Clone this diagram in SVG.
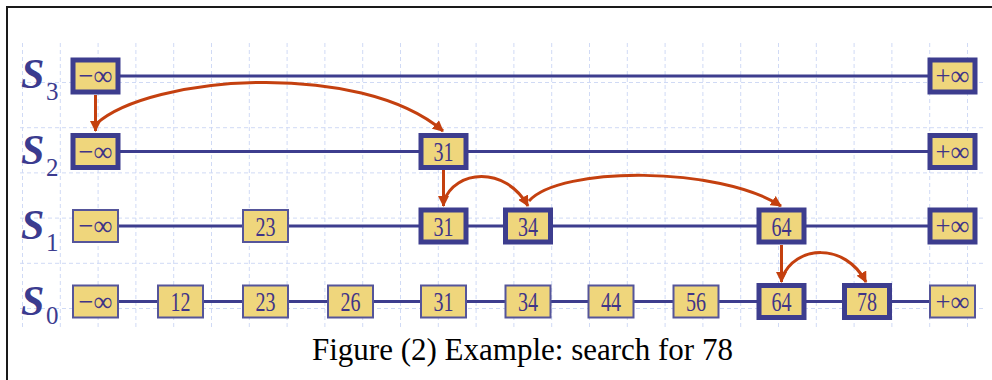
<svg xmlns="http://www.w3.org/2000/svg" width="992" height="380" viewBox="0 0 992 380">
<style>
.grid line{stroke:#d0daf5;stroke-width:1;stroke-dasharray:4 3}
.lvl{stroke:#3d3d8e;stroke-width:3;fill:none}
.arr{stroke:#c4400f;stroke-width:3;fill:none;marker-end:url(#ah)}
.thick rect{fill:#efd67c;stroke:#3d3d8e;stroke-width:5}
.thin rect{fill:#efd67c;stroke:#55559a;stroke-width:2}
.num{font-family:"Liberation Serif",serif;font-size:27px;fill:#3f3488;text-anchor:middle}
.inf{font-family:"Liberation Serif",serif;font-size:28px;fill:#3f3488;text-anchor:middle}
.lab{font-family:"Liberation Serif",serif;font-style:italic;font-weight:bold;font-size:42px;fill:#3b3b8f}
.sub{font-family:"Liberation Serif",serif;font-size:25px;fill:#3b3b8f}
.cap{font-family:"Liberation Serif",serif;font-size:31px;fill:#000}
</style>
<defs>
<marker id="ah" markerUnits="userSpaceOnUse" markerWidth="12" markerHeight="11" refX="10" refY="5.5" orient="auto">
<path d="M0,0 L11,5.5 L0,11 z" fill="#c4400f"/>
</marker>
</defs>
<rect x="0" y="0" width="992" height="380" fill="#fff"/>
<path d="M7,380 V7 H992" fill="none" stroke="#1a1a1a" stroke-width="2"/>
<g class="grid" id="grid">
<line x1="22.5" y1="43" x2="22.5" y2="330"/><line x1="60.3" y1="43" x2="60.3" y2="330"/><line x1="98.1" y1="43" x2="98.1" y2="330"/><line x1="135.9" y1="43" x2="135.9" y2="330"/><line x1="173.7" y1="43" x2="173.7" y2="330"/><line x1="211.5" y1="43" x2="211.5" y2="330"/><line x1="249.3" y1="43" x2="249.3" y2="330"/><line x1="287.1" y1="43" x2="287.1" y2="330"/><line x1="324.9" y1="43" x2="324.9" y2="330"/><line x1="362.7" y1="43" x2="362.7" y2="330"/><line x1="400.5" y1="43" x2="400.5" y2="330"/><line x1="438.3" y1="43" x2="438.3" y2="330"/><line x1="476.1" y1="43" x2="476.1" y2="330"/><line x1="513.9" y1="43" x2="513.9" y2="330"/><line x1="551.7" y1="43" x2="551.7" y2="330"/><line x1="589.5" y1="43" x2="589.5" y2="330"/><line x1="627.3" y1="43" x2="627.3" y2="330"/><line x1="665.1" y1="43" x2="665.1" y2="330"/><line x1="702.9" y1="43" x2="702.9" y2="330"/><line x1="740.7" y1="43" x2="740.7" y2="330"/><line x1="778.5" y1="43" x2="778.5" y2="330"/><line x1="816.3" y1="43" x2="816.3" y2="330"/><line x1="854.1" y1="43" x2="854.1" y2="330"/><line x1="891.9" y1="43" x2="891.9" y2="330"/><line x1="929.7" y1="43" x2="929.7" y2="330"/><line x1="967.5" y1="43" x2="967.5" y2="330"/>
<line x1="20" y1="82.5" x2="985" y2="82.5"/><line x1="20" y1="127.7" x2="985" y2="127.7"/><line x1="20" y1="172.9" x2="985" y2="172.9"/><line x1="20" y1="218.1" x2="985" y2="218.1"/><line x1="20" y1="263.3" x2="985" y2="263.3"/><line x1="20" y1="308.5" x2="985" y2="308.5"/>
</g>
<g id="labels">
<text class="lab" x="21" y="88">S</text><text class="sub" x="46" y="100">3</text>
<text class="lab" x="21" y="164">S</text><text class="sub" x="46" y="176">2</text>
<text class="lab" x="21" y="239">S</text><text class="sub" x="46" y="251">1</text>
<text class="lab" x="21" y="315">S</text><text class="sub" x="46" y="324">0</text>
</g>
<g id="connectors">
<line class="lvl" x1="96" y1="76" x2="952" y2="76"/>
<line class="lvl" x1="96" y1="151.5" x2="952" y2="151.5"/>
<line class="lvl" x1="96" y1="226" x2="952" y2="226"/>
<line class="lvl" x1="96" y1="301.5" x2="952" y2="301.5"/>
<path class="arr" d="M95.5,95 V131"/>
<path class="arr" d="M96,124 C150,75 360,60 443,131"/>
<path class="arr" d="M443.5,170 V206"/>
<path class="arr" d="M444,201 C455,170 505,165 528,206"/>
<path class="arr" d="M529,201 C560,166 720,166 781,206"/>
<path class="arr" d="M781.5,245 V282"/>
<path class="arr" d="M782,278 C795,245 845,242 866,282"/>
</g>
<g id="s3-ninf" class="thick"><rect x="73" y="60" width="45" height="32"/><text class="inf" x="95.5" y="85" textLength="34" lengthAdjust="spacingAndGlyphs">−∞</text></g>
<g id="s3-pinf" class="thick"><rect x="930" y="60" width="45" height="32"/><text class="inf" x="952.5" y="85" textLength="34" lengthAdjust="spacingAndGlyphs">+∞</text></g>
<g id="s2-ninf" class="thick"><rect x="73" y="135.5" width="45" height="32"/><text class="inf" x="95.5" y="160.5" textLength="34" lengthAdjust="spacingAndGlyphs">−∞</text></g>
<g id="s2-31" class="thick"><rect x="421" y="135.5" width="45" height="32"/><text class="num" x="443.5" y="161" textLength="20" lengthAdjust="spacingAndGlyphs">31</text></g>
<g id="s2-pinf" class="thick"><rect x="930" y="135.5" width="45" height="32"/><text class="inf" x="952.5" y="160.5" textLength="34" lengthAdjust="spacingAndGlyphs">+∞</text></g>
<g id="s1-ninf" class="thin"><rect x="73" y="210" width="45" height="32"/><text class="inf" x="95.5" y="235" textLength="34" lengthAdjust="spacingAndGlyphs">−∞</text></g>
<g id="s1-23" class="thin"><rect x="243" y="210" width="45" height="32"/><text class="num" x="265.5" y="235.5" textLength="20" lengthAdjust="spacingAndGlyphs">23</text></g>
<g id="s1-31" class="thick"><rect x="421" y="210" width="45" height="32"/><text class="num" x="443.5" y="235.5" textLength="20" lengthAdjust="spacingAndGlyphs">31</text></g>
<g id="s1-34" class="thick"><rect x="505.5" y="210" width="45" height="32"/><text class="num" x="528" y="235.5" textLength="20" lengthAdjust="spacingAndGlyphs">34</text></g>
<g id="s1-64" class="thick"><rect x="759" y="210" width="45" height="32"/><text class="num" x="781.5" y="235.5" textLength="20" lengthAdjust="spacingAndGlyphs">64</text></g>
<g id="s1-pinf" class="thick"><rect x="930" y="210" width="45" height="32"/><text class="inf" x="952.5" y="235" textLength="34" lengthAdjust="spacingAndGlyphs">+∞</text></g>
<g id="s0-ninf" class="thin"><rect x="73" y="285.5" width="45" height="32"/><text class="inf" x="95.5" y="310.5" textLength="34" lengthAdjust="spacingAndGlyphs">−∞</text></g>
<g id="s0-12" class="thin"><rect x="158" y="285.5" width="45" height="32"/><text class="num" x="180.5" y="311" textLength="20" lengthAdjust="spacingAndGlyphs">12</text></g>
<g id="s0-23" class="thin"><rect x="243" y="285.5" width="45" height="32"/><text class="num" x="265.5" y="311" textLength="20" lengthAdjust="spacingAndGlyphs">23</text></g>
<g id="s0-26" class="thin"><rect x="328" y="285.5" width="45" height="32"/><text class="num" x="350.5" y="311" textLength="20" lengthAdjust="spacingAndGlyphs">26</text></g>
<g id="s0-31" class="thin"><rect x="421" y="285.5" width="45" height="32"/><text class="num" x="443.5" y="311" textLength="20" lengthAdjust="spacingAndGlyphs">31</text></g>
<g id="s0-34" class="thin"><rect x="505.5" y="285.5" width="45" height="32"/><text class="num" x="528" y="311" textLength="20" lengthAdjust="spacingAndGlyphs">34</text></g>
<g id="s0-44" class="thin"><rect x="588.5" y="285.5" width="45" height="32"/><text class="num" x="611" y="311" textLength="20" lengthAdjust="spacingAndGlyphs">44</text></g>
<g id="s0-56" class="thin"><rect x="673.5" y="285.5" width="45" height="32"/><text class="num" x="696" y="311" textLength="20" lengthAdjust="spacingAndGlyphs">56</text></g>
<g id="s0-64" class="thick"><rect x="759" y="285.5" width="45" height="32"/><text class="num" x="781.5" y="311" textLength="20" lengthAdjust="spacingAndGlyphs">64</text></g>
<g id="s0-78" class="thick"><rect x="844.5" y="285.5" width="45" height="32"/><text class="num" x="867" y="311" textLength="20" lengthAdjust="spacingAndGlyphs">78</text></g>
<g id="s0-pinf" class="thin"><rect x="930" y="285.5" width="45" height="32"/><text class="inf" x="952.5" y="310.5" textLength="34" lengthAdjust="spacingAndGlyphs">+∞</text></g>
<text class="cap" x="312" y="360">Figure (2) Example: search for 78</text>
</svg>
